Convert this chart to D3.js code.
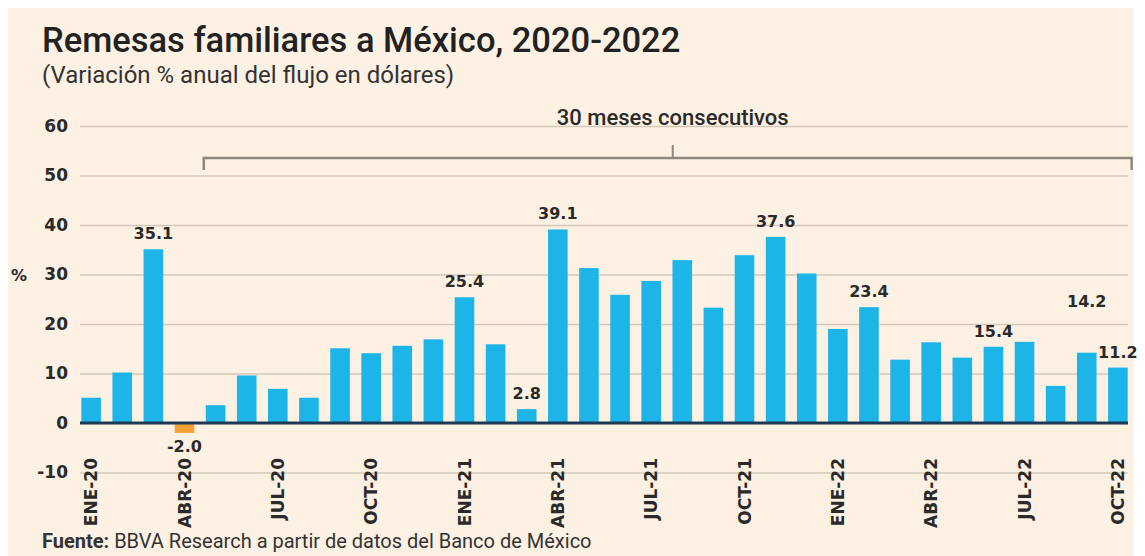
<!DOCTYPE html>
<html>
<head>
<meta charset="utf-8">
<script src="https://cdn.jsdelivr.net/npm/d3@7"></script>
<style>
  body { margin: 0; background: #ffffff; }
  svg { display: block; }
</style>
</head>
<body>
<div id="chart"></div>
<script>
// Meses (ENE-20 a OCT-22)
const months = [
  "ENE-20", "FEB-20", "MAR-20", "ABR-20", "MAY-20", "JUN-20", "JUL-20", "AGO-20", "SEP-20", "OCT-20", "NOV-20", "DIC-20",
  "ENE-21", "FEB-21", "MAR-21", "ABR-21", "MAY-21", "JUN-21", "JUL-21", "AGO-21", "SEP-21", "OCT-21", "NOV-21", "DIC-21",
  "ENE-22", "FEB-22", "MAR-22", "ABR-22", "MAY-22", "JUN-22", "JUL-22", "AGO-22", "SEP-22", "OCT-22"
];

// Variación % anual
const values = [
  5.1, 10.2, 35.1, -2.0, 3.6, 9.6, 6.9, 5.1, 15.1, 14.1, 15.6, 16.9,
  25.4, 15.9, 2.8, 39.1, 31.3, 25.9, 28.7, 32.9, 23.3, 33.9, 37.6, 30.2,
  19.0, 23.4, 12.8, 16.3, 13.2, 15.4, 16.4, 7.5, 14.2, 11.2
];

// Meses con etiqueta de valor
const labeledMonths = ["MAR-20", "ABR-20", "ENE-21", "MAR-21", "ABR-21", "NOV-21", "FEB-22", "JUN-22", "SEP-22", "OCT-22"];

// Etiquetas del eje x
const tickLabels = ["ENE-20", "ABR-20", "JUL-20", "OCT-20", "ENE-21", "ABR-21", "JUL-21", "OCT-21", "ENE-22", "ABR-22", "JUL-22", "OCT-22"];
const yTicks = [-10, 0, 10, 20, 30, 40, 50, 60];

// Racha de meses positivos
const streakStart = "MAY-20";
const streakEnd = "OCT-22";
const streakText = "30 meses consecutivos";

const colors = {
  bg: "#fcf1e3",
  bar: "#1db4e8",
  neg: "#f4a236",
  grid: "#d3c9bb",
  zero: "#1d3a55",
  text: "#2a2a2a",
  bracket: "#8f897d",
};

const W = 1145, H = 556;
const data = months.map((m, i) => ({ month: m, value: values[i] }));

const svg = d3.select("#chart").append("svg")
  .attr("width", W)
  .attr("height", H);

// Fondo crema
svg.append("rect")
  .attr("x", 8).attr("y", 8)
  .attr("width", 1125).attr("height", H - 8)
  .attr("fill", colors.bg);

const x = d3.scaleBand()
  .domain(months)
  .range([72, 1137])
  .paddingInner(0.37)
  .paddingOuter(0.3);

const y = d3.scaleLinear()
  .domain([-10, 60])
  .range([472.5, 126]);

const gridLeft = 80, gridRight = 1128;

// Eje y con líneas de cuadrícula
const yAxis = svg.append("g")
  .attr("transform", `translate(${gridLeft},0)`)
  .call(
    d3.axisLeft(y)
      .tickValues(yTicks)
      .tickFormat((d) => String(d))
      .tickSize(-(gridRight - gridLeft))
      .tickPadding(12)
  );
yAxis.select(".domain").remove();
yAxis.selectAll("line")
  .attr("stroke", colors.grid)
  .attr("stroke-width", 1.5);
yAxis.selectAll("text")
  .attr("font-family", "DejaVu Sans")
  .attr("font-weight", "bold")
  .attr("font-size", "17px")
  .attr("fill", colors.text);

svg.append("text")
  .attr("x", 11)
  .attr("y", y(30) + 6)
  .attr("font-family", "DejaVu Sans")
  .attr("font-weight", "bold")
  .attr("font-size", "16px")
  .attr("fill", colors.text)
  .text("%");

// Barras
svg.append("g")
  .selectAll("rect")
  .data(data)
  .enter()
  .append("rect")
  .attr("x", (d) => x(d.month))
  .attr("y", (d) => y(Math.max(0, d.value)))
  .attr("width", x.bandwidth())
  .attr("height", (d) => Math.abs(y(d.value) - y(0)))
  .attr("fill", (d) => (d.value < 0 ? colors.neg : colors.bar));

// Línea del cero
svg.append("line")
  .attr("x1", gridLeft).attr("x2", gridRight)
  .attr("y1", y(0)).attr("y2", y(0))
  .attr("stroke", colors.zero)
  .attr("stroke-width", 3);

// Etiquetas de valor
svg.append("g")
  .selectAll("text")
  .data(data.filter((d) => labeledMonths.includes(d.month)))
  .enter()
  .append("text")
  .attr("x", (d) => x(d.month) + x.bandwidth() / 2)
  .attr("y", (d) => {
    if (d.value < 0) return y(d.value) + 19;
    // 14.2 va más arriba para no chocar con 11.2
    if (d.month === "SEP-22") return y(d.value) - 46;
    return y(d.value) - 10;
  })
  .attr("text-anchor", "middle")
  .attr("font-family", "DejaVu Sans")
  .attr("font-weight", "bold")
  .attr("font-size", "16px")
  .attr("fill", colors.text)
  .text((d) => d.value.toFixed(1));

// Eje x con etiquetas verticales
const xAxis = svg.append("g")
  .attr("transform", "translate(0,452)")
  .call(d3.axisBottom(x).tickValues(tickLabels).tickSize(0).tickPadding(0));
xAxis.select(".domain").remove();
xAxis.selectAll("text")
  .attr("transform", "rotate(-90)")
  .attr("text-anchor", "end")
  .attr("x", -6)
  .attr("y", 0)
  .attr("dy", "0.36em")
  .attr("font-family", "DejaVu Sans")
  .attr("font-weight", "bold")
  .attr("font-size", "17px")
  .attr("fill", colors.text);

// Corchete de la racha
const bx0 = x(streakStart) - 2;
const bx1 = x(streakEnd) + x.bandwidth() + 4;
const bxm = (bx0 + bx1) / 2 + 5;
const by = 158;
svg.append("path")
  .attr("d", `M${bx0},${by + 12}L${bx0},${by}L${bx1},${by}L${bx1},${by + 12}`)
  .attr("fill", "none")
  .attr("stroke", colors.bracket)
  .attr("stroke-width", 2.5);
svg.append("line")
  .attr("x1", bxm).attr("x2", bxm)
  .attr("y1", by).attr("y2", by - 13)
  .attr("stroke", colors.bracket)
  .attr("stroke-width", 2);
svg.append("text")
  .attr("x", bxm)
  .attr("y", 125)
  .attr("text-anchor", "middle")
  .attr("font-family", "Roboto")
  .attr("font-weight", 500)
  .attr("font-size", "22px")
  .attr("fill", colors.text)
  .text(streakText);

// Títulos
svg.append("text")
  .attr("x", 42)
  .attr("y", 52)
  .attr("font-family", "Roboto")
  .attr("font-weight", 500)
  .attr("font-size", "34.5px")
  .attr("fill", "#222")
  .text("Remesas familiares a México, 2020-2022");

svg.append("text")
  .attr("x", 42)
  .attr("y", 83)
  .attr("font-family", "Roboto")
  .attr("font-size", "24px")
  .attr("fill", "#333")
  .text("(Variación % anual del flujo en dólares)");

// Fuente
const src = svg.append("text")
  .attr("x", 42)
  .attr("y", 548)
  .attr("font-family", "Roboto")
  .attr("font-size", "20px")
  .attr("fill", "#333");
src.append("tspan").attr("font-weight", "bold").text("Fuente: ");
src.append("tspan").text("BBVA Research a partir de datos del Banco de México");
</script>
</body>
</html>
